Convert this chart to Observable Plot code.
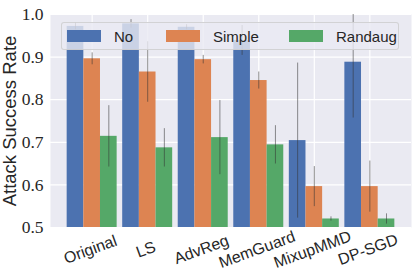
<!DOCTYPE html>
<html>
<head>
<meta charset="utf-8">
<script src="https://cdn.jsdelivr.net/npm/d3@7"></script>
<script src="https://cdn.jsdelivr.net/npm/@observablehq/plot@0.6"></script>
<style>
  body { margin: 0; background: #fff; }
  #wrap { position: relative; width: 415px; height: 277px; }
  #legend {
    position: absolute; left: 61px; top: 22px; width: 336px; height: 26px;
    background: rgba(234,234,242,0.8); border: 1px solid rgba(204,204,204,0.8);
    border-radius: 3px; font-family: "Liberation Sans", sans-serif; font-size: 15px; color: #262626;
  }
  #legend .item { position: absolute; top: 0; height: 26px; display: flex; align-items: center; }
  #legend .sw { width: 34px; height: 12px; margin-right: 13px; }
</style>
</head>
<body>
<div id="wrap"></div>
<script>
const groups = ["Original", "LS", "AdvReg", "MemGuard", "MixupMMD", "DP-SGD"];
const series = ["No", "Simple", "Randaug"];
const colors = ["#4C72B0", "#DD8452", "#55A868"];
const noVals = [0.972, 0.978, 0.970, 0.939, 0.704, 0.888];
const noErr = [0.008, 0.010, 0.006, 0.035, 0.182, 0.131];
const simpleVals = [0.896, 0.865, 0.894, 0.845, 0.596, 0.596];
const simpleErr = [0.014, 0.071, 0.010, 0.020, 0.047, 0.060];
const randVals = [0.714, 0.687, 0.711, 0.694, 0.520, 0.520];
const randErr = [0.072, 0.045, 0.087, 0.045, 0.005, 0.012];
const yTicks = [0.5, 0.6, 0.7, 0.8, 0.9, 1.0];

const vals = [noVals, simpleVals, randVals];
const errs = [noErr, simpleErr, randErr];
const barW = 0.3;
const data = [];
groups.forEach((g, gi) => {
  series.forEach((s, si) => {
    const c = gi + (si - 1) * barW;
    data.push({group: g, series: s, gi, si, x1: c - barW / 2, x2: c + barW / 2, xc: c,
      v: vals[si][gi], lo: vals[si][gi] - errs[si][gi], hi: vals[si][gi] + errs[si][gi]});
  });
});

const chart = Plot.plot({
  width: 415, height: 277,
  marginLeft: 50, marginRight: 4, marginTop: 14, marginBottom: 50,
  style: {fontFamily: "Liberation Sans, sans-serif", background: "#fff"},
  x: {domain: [-0.75, groups.length - 0.25], axis: null},
  y: {domain: [0.5, 1.0], axis: null},
  color: {domain: series, range: colors},
  marks: [
    Plot.frame({fill: "#EAEAF2", stroke: null}),
    Plot.gridY(yTicks, {stroke: "#fff", strokeOpacity: 1, strokeWidth: 1.2}),
    Plot.gridX(groups.map((g, i) => i), {stroke: "#fff", strokeOpacity: 1, strokeWidth: 1.2}),
    Plot.rectY(data, {x1: "x1", x2: "x2", y1: 0.5, y2: "v", fill: "series", clip: true}),
    Plot.ruleX(data, {x: "xc", y1: "lo", y2: "hi", stroke: "#333", strokeOpacity: 0.55, strokeWidth: 1, clip: true}),
    Plot.text(yTicks, {x: -0.75, y: d => d, text: d => d.toFixed(1), textAnchor: "end", dx: -7,
      fontFamily: "Liberation Serif, serif", fontSize: 17.5, fill: "#262626"}),
    Plot.text(groups, {x: (d, i) => i, frameAnchor: "bottom", text: d => d, dy: 27, rotate: -20,
      fontSize: 16, fill: "#262626", textAnchor: "middle"}),
    Plot.text(["Attack Success Rate"], {frameAnchor: "left", text: d => d, rotate: -90, dx: -40,
      textAnchor: "middle", fontSize: 18.5, fill: "#262626"})
  ]
});
const wrap = document.getElementById("wrap");
wrap.appendChild(chart);

const legend = document.createElement("div");
legend.id = "legend";
const lefts = [5, 104, 227];
series.forEach((s, i) => {
  const it = document.createElement("div");
  it.className = "item";
  it.style.left = lefts[i] + "px";
  it.innerHTML = `<span class="sw" style="background:${colors[i]}"></span><span>${s}</span>`;
  legend.appendChild(it);
});
wrap.appendChild(legend);
</script>
</body>
</html>
